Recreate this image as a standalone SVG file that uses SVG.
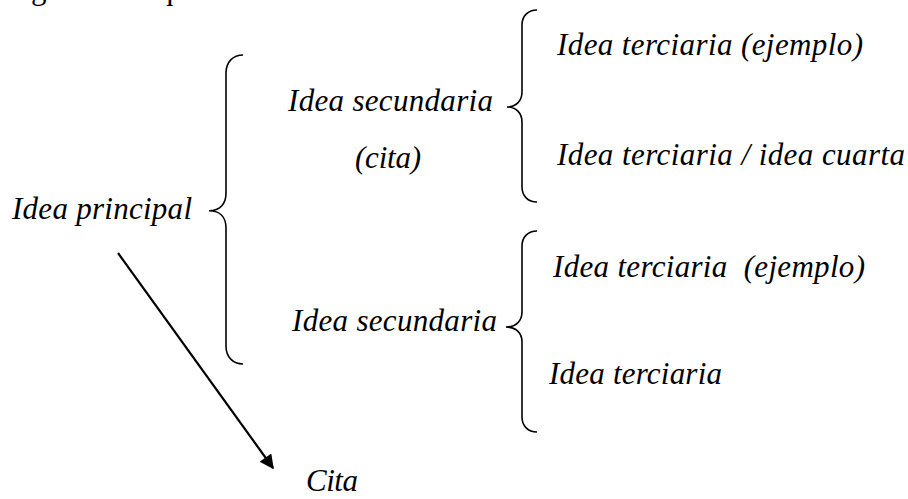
<svg xmlns="http://www.w3.org/2000/svg" width="908" height="499" viewBox="0 0 908 499">
<style>
text{font-family:'Liberation Serif','Times New Roman',Times,serif;font-size:31px;fill:#000}
.t{font-style:italic;white-space:pre}
.br{fill:none;stroke:#000;stroke-width:1.6}
.ar{fill:none;stroke:#000;stroke-width:2.2}
</style>
<defs>
<marker id="ah" viewBox="0 0 10 10" refX="9" refY="5" markerWidth="8" markerHeight="6.5" markerUnits="strokeWidth" orient="auto">
<path d="M0,0 L10,5 L0,10 z" fill="#000"/>
</marker>
</defs>
<rect width="908" height="499" fill="#fff"/>
<text x="10" y="-1" textLength="240">siguiente esquema:</text>
<g id="principal">
<text class="t" x="12" y="219" textLength="180">Idea principal</text>
</g>
<g id="sec1">
<text class="t" x="288" y="111" textLength="205">Idea secundaria</text>
<text class="t" x="355" y="168" textLength="66">(cita)</text>
</g>
<g id="ter1">
<text class="t" x="557" y="55" textLength="306">Idea terciaria (ejemplo)</text>
</g>
<g id="ter2">
<text class="t" x="557" y="165" textLength="348">Idea terciaria / idea cuarta</text>
</g>
<g id="sec2">
<text class="t" x="292" y="331" textLength="205">Idea secundaria</text>
</g>
<g id="ter3">
<text class="t" x="553" y="277" textLength="312">Idea terciaria  (ejemplo)</text>
</g>
<g id="ter4">
<text class="t" x="549" y="384" textLength="173">Idea terciaria</text>
</g>
<g id="cita">
<text class="t" x="306" y="491" textLength="52">Cita</text>
</g>
<g id="connectors">
<path class="br" d="M243,55 C233,55 226,62 226,73 L226,193 C226,204 220,210.7 209,210.7 C220,210.7 226,217 226,228 L226,346 C226,357 233,364 243,364"/>
<path class="br" d="M537,10 C528,10 522,16 522,25 L522,92 C522,101 516,107 507,107 C516,107 522,113 522,122 L522,187 C522,196 528,202 537,202"/>
<path class="br" d="M537,231 C528,231 522,237 522,246 L522,312 C522,321 516,327 506,327 C516,327 522,333 522,342 L522,417 C522,426 528,432 537,432"/>
<line class="ar" x1="118" y1="253" x2="273" y2="468" marker-end="url(#ah)"/>
</g>
</svg>
